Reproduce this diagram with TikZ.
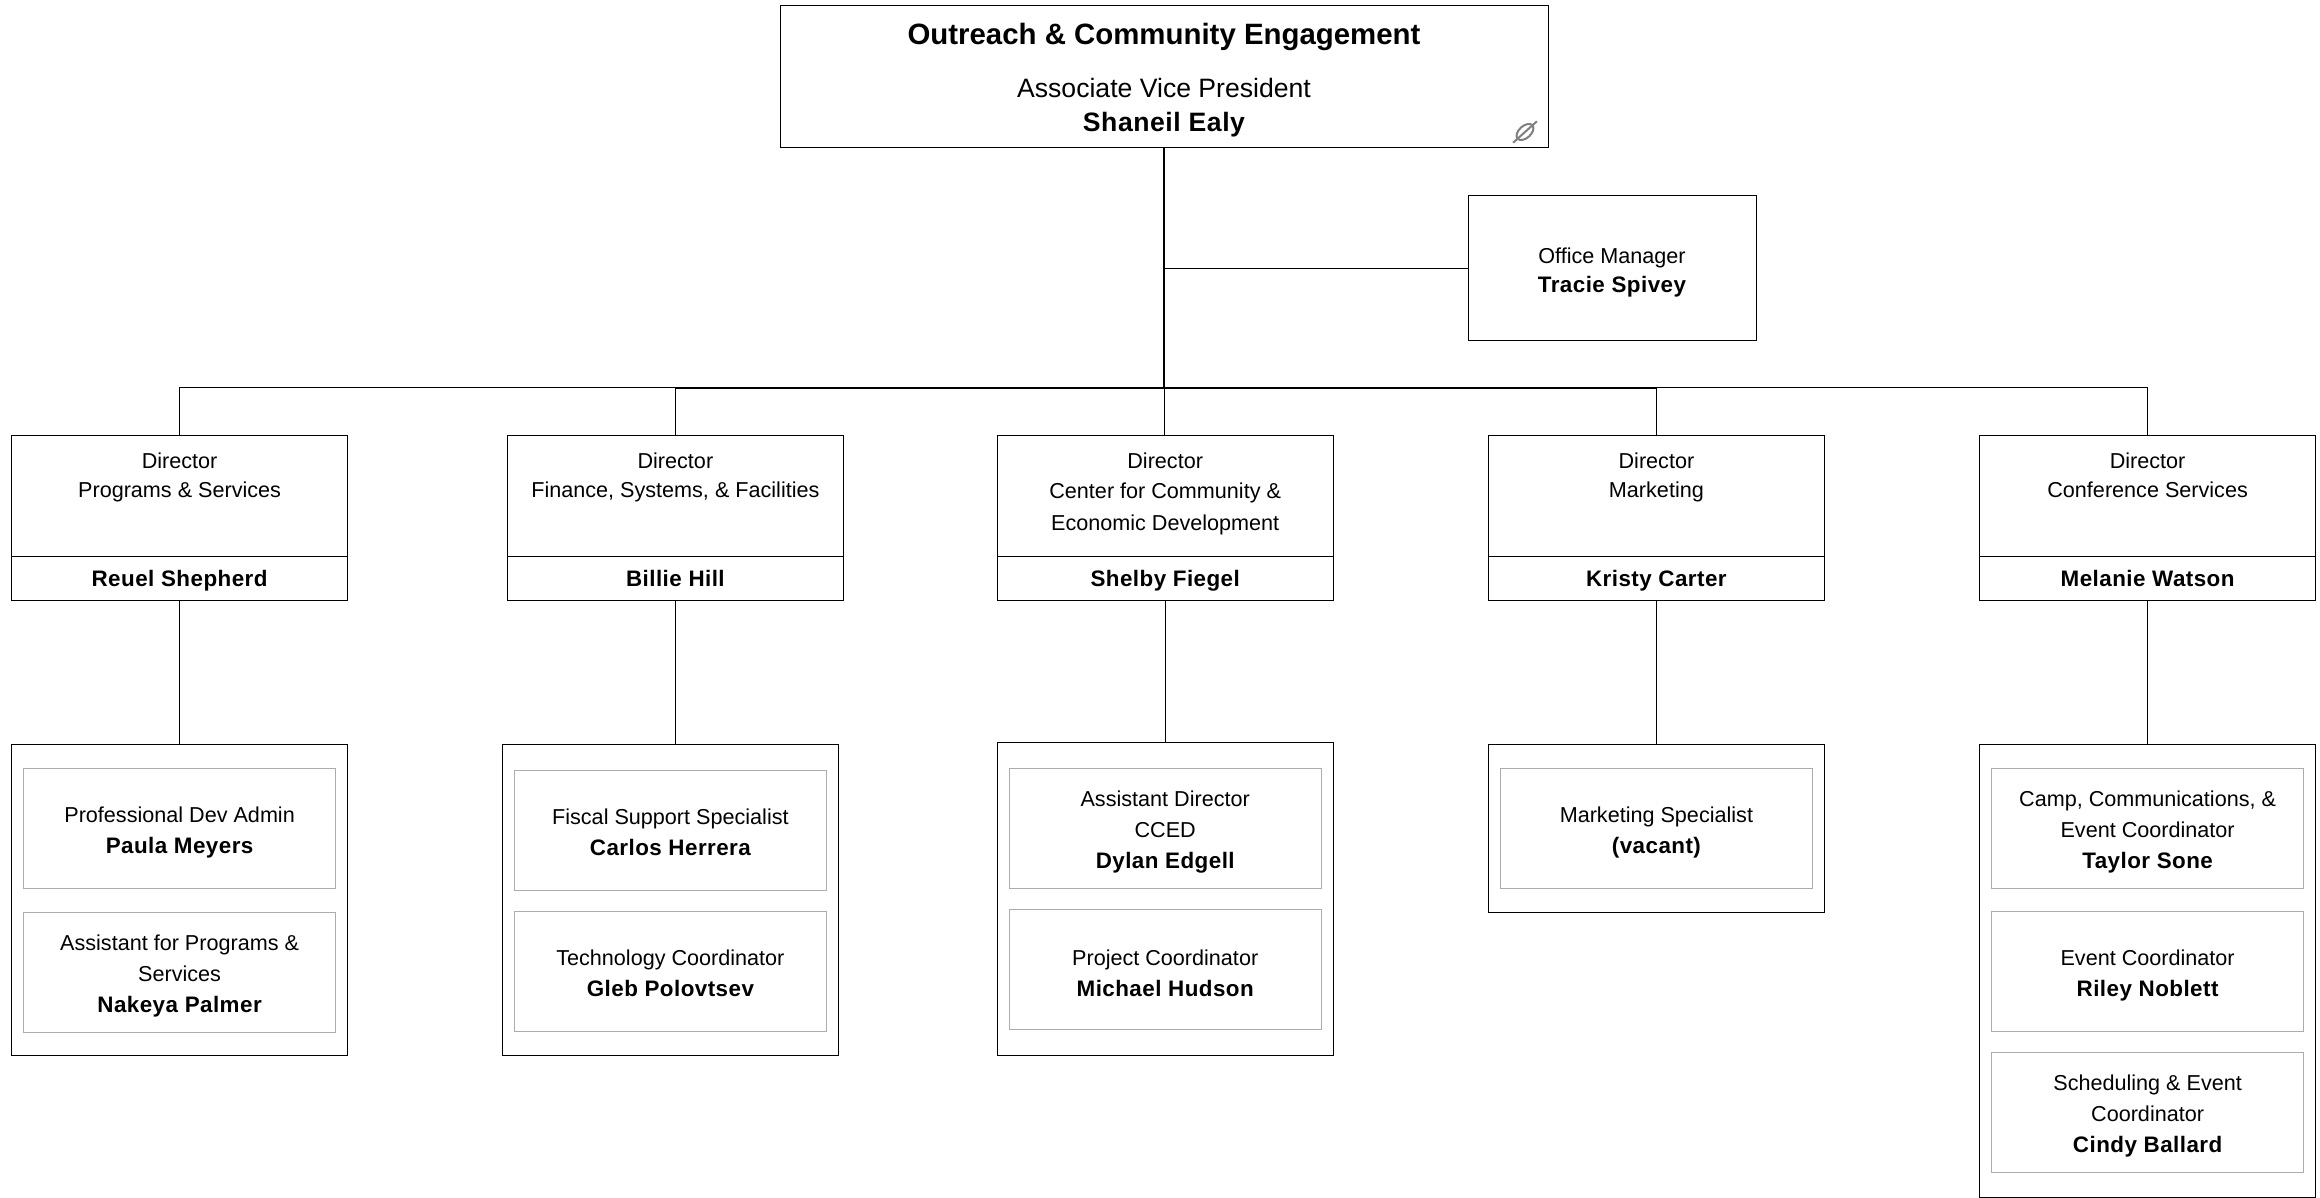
\documentclass[tikz,border=0pt]{standalone}
\usepackage{fontspec}
\setmainfont{Liberation Sans}[BoldFeatures={LetterSpace=2}]
\newfontfamily\titlefont{Liberation Sans}
\usetikzlibrary{shapes,positioning}
\newcommand{\who}[1]{{\fontsize{11.2}{15.5}\selectfont\bfseries #1}}
\newcommand{\lowtext}{\rule{0pt}{12.2pt}}
\newcommand{\midtext}{\rule{0pt}{9.7pt}}
\tikzset{minimum size=0pt, outer sep=0pt, inner sep=0pt, font=\fontsize{10.8}{15.5}\selectfont}
\tikzstyle{vp} = [draw=black, line width=0.5pt, rectangle, minimum width=384pt, minimum height=71pt, align=center]
\tikzstyle{staff} = [draw=black, line width=0.5pt, rectangle, minimum width=144pt, minimum height=72.5pt, align=center]
\tikzstyle{director} = [draw=black, line width=0.5pt, rectangle, minimum width=168pt, minimum height=60.5pt, align=center]
\tikzstyle{dirname} = [draw=black, line width=0.5pt, rectangle, minimum width=168pt, minimum height=22pt, align=center, text height=8.1pt, text depth=0pt]
\tikzstyle{team} = [draw=black, line width=0.5pt, rectangle, minimum width=168pt]
\tikzstyle{member} = [draw=gray!65, line width=0.5pt, rectangle, minimum width=156pt, minimum height=60pt, align=center]
\tikzstyle{conn} = [draw=black, line width=0.5pt]
\tikzstyle{trunk} = [draw=black, line width=0.8pt]
\tikzstyle{linkicon} = [draw=gray, line width=1pt, ellipse, minimum width=10pt, minimum height=6pt, rotate=42]

\begin{document}
\begin{tikzpicture}
    \useasboundingbox (0,0) rectangle (1160pt,-599pt);

    \node [vp] (top) at (582pt,-38.3pt) {\rule{0pt}{14.1pt}{\titlefont\fontsize{14.7}{17}\selectfont\bfseries Outreach \& Community Engagement}\\[11.2pt]
        {\fontsize{13.3}{16}\selectfont Associate Vice President}\\[1.5pt]
        {\fontsize{13.3}{16}\selectfont\bfseries Shaneil Ealy}};
    \node [linkicon] (icon) at (762.5pt,-66pt) {};
    \node [staff, below right=24pt and -40pt of top.south east] (office) {\lowtext Office Manager\\[-0.7pt]\who{Tracie Spivey}};
    \coordinate [below=120.2pt of top.south] (bus);

    % directors
    \node [director, anchor=north west] (dir_prog) at (5.8pt,-217.5pt) {Director\\[-0.7pt]Programs \& Services\\[5pt]~};
    \node [dirname, below=0pt of dir_prog] (dir_prog_name) {\who{Reuel Shepherd}};
    \node [director, right=79.9pt of dir_prog] (dir_fin) {Director\\[-0.7pt]Finance, Systems, \& Facilities\\[5pt]~};
    \node [dirname, below=0pt of dir_fin] (dir_fin_name) {\who{Billie Hill}};
    \node [director, right=76.9pt of dir_fin] (dir_ced) {Director\\[-0.7pt]Center for Community \&\\[0.7pt]Economic Development\rule[-3.8pt]{0pt}{0pt}};
    \node [dirname, below=0pt of dir_ced] (dir_ced_name) {\who{Shelby Fiegel}};
    \node [director, right=77.6pt of dir_ced] (dir_mkt) {Director\\[-0.7pt]Marketing\\[5pt]~};
    \node [dirname, below=0pt of dir_mkt] (dir_mkt_name) {\who{Kristy Carter}};
    \node [director, right=77.6pt of dir_mkt] (dir_conf) {Director\\[-0.7pt]Conference Services\\[5pt]~};
    \node [dirname, below=0pt of dir_conf] (dir_conf_name) {\who{Melanie Watson}};

    % teams
    \node [team, minimum height=155.5pt, below=72pt of dir_prog_name] (team_prog) {};
    \node [member, below=12pt of team_prog.north] (paula) {\lowtext Professional Dev Admin\\\who{Paula Meyers}};
    \node [member, below=12pt of paula] (nakeya) {\lowtext Assistant for Programs \&\\Services\\\who{Nakeya Palmer}};

    \node [team, minimum height=155.5pt, below=72pt of dir_fin_name, xshift=-2.5pt] (team_fin) {};
    \node [member, below=13pt of team_fin.north] (carlos) {\midtext Fiscal Support Specialist\\\who{Carlos Herrera}};
    \node [member, below=10.5pt of carlos] (gleb) {\midtext Technology Coordinator\\\who{Gleb Polovtsev}};

    \node [team, minimum height=156.5pt, below=71pt of dir_ced_name] (team_ced) {};
    \node [member, below=13pt of team_ced.north] (dylan) {\lowtext Assistant Director\\CCED\\\who{Dylan Edgell}};
    \node [member, below=10.5pt of dylan] (michael) {\lowtext Project Coordinator\\\who{Michael Hudson}};

    \node [team, minimum height=84pt, below=72pt of dir_mkt_name] (team_mkt) {};
    \node [member, below=12pt of team_mkt.north] (vacant) {\lowtext Marketing Specialist\\\who{(vacant)}};

    \node [team, minimum height=226.7pt, below=72pt of dir_conf_name] (team_conf) {};
    \node [member, below=12pt of team_conf.north] (taylor) {\lowtext Camp, Communications, \&\\Event Coordinator\\\who{Taylor Sone}};
    \node [member, below=11.5pt of taylor] (riley) {\lowtext Event Coordinator\\\who{Riley Noblett}};
    \node [member, below=10.5pt of riley] (cindy) {\lowtext Scheduling \& Event\\Coordinator\\\who{Cindy Ballard}};

    \draw [trunk] (top.south) -- (bus);
    \draw [trunk] (bus -| dir_fin.north) -- (bus -| dir_mkt.north);
    \draw [conn] (office.west) -- (office.west -| bus);
    \draw [conn] (bus) -| (dir_prog.north);
    \draw [conn] (bus) -| (dir_fin.north);
    \draw [conn] (bus) -- (bus |- dir_ced.north);
    \draw [conn] (bus) -| (dir_mkt.north);
    \draw [conn] (bus) -| (dir_conf.north);
    \draw [conn] (dir_prog_name.south) -- (dir_prog_name.south |- team_prog.north);
    \draw [conn] (dir_fin_name.south) -- (dir_fin_name.south |- team_fin.north);
    \draw [conn] (dir_ced_name.south) -- (dir_ced_name.south |- team_ced.north);
    \draw [conn] (dir_mkt_name.south) -- (dir_mkt_name.south |- team_mkt.north);
    \draw [conn] (dir_conf_name.south) -- (dir_conf_name.south |- team_conf.north);
    \draw [draw=gray, line width=1pt, shorten >=-3pt, shorten <=-3pt] (icon.west) -- (icon.east);
\end{tikzpicture}
\end{document}
